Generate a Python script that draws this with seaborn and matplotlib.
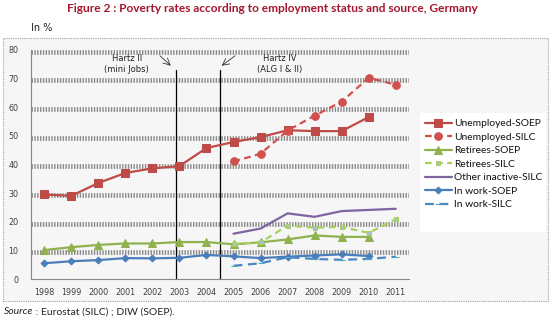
import numpy as np
import pandas as pd
import matplotlib
matplotlib.use("Agg")
import matplotlib.pyplot as plt
from matplotlib.patches import Rectangle
import seaborn as sns

years_all = list(range(1998, 2012))
years_soep = list(range(1998, 2011))
years_silc = list(range(2005, 2012))

unemployed_soep = [29.6, 29.1, 33.6, 37.1, 38.7, 39.5, 45.8, 47.9, 49.6, 52.0, 51.7, 51.7, 56.6]
unemployed_silc = [41.1, 43.8, 51.9, 57.1, 62.0, 70.3, 67.9]
retirees_soep = [10.2, 11.2, 12.0, 12.5, 12.5, 13.0, 13.0, 12.2, 12.9, 13.9, 15.3, 14.8, 14.8]
retirees_silc = [12.3, 12.9, 18.7, 18.0, 18.3, 16.2, 21.0]
other_inactive_silc = [15.9, 17.7, 23.0, 21.8, 23.8, 24.2, 24.6]
inwork_soep = [5.6, 6.3, 6.7, 7.4, 7.3, 7.5, 8.5, 8.0, 7.4, 7.9, 8.3, 8.7, 8.1]
inwork_silc = [4.7, 5.6, 7.7, 7.1, 6.8, 7.1, 7.9]

series_names = ["Unemployed-SOEP", "Unemployed-SILC", "Retirees-SOEP", "Retirees-SILC",
                "Other inactive-SILC", "In work-SOEP", "In work-SILC"]
yticks = [0, 10, 20, 30, 40, 50, 60, 70, 80]

title = "Figure 2 : Poverty rates according to employment status and source, Germany"

frames = []
for name, yrs, vals in [
    ("Unemployed-SOEP", years_soep, unemployed_soep),
    ("Unemployed-SILC", years_silc, unemployed_silc),
    ("Retirees-SOEP", years_soep, retirees_soep),
    ("Retirees-SILC", years_silc, retirees_silc),
    ("Other inactive-SILC", years_silc, other_inactive_silc),
    ("In work-SOEP", years_soep, inwork_soep),
    ("In work-SILC", years_silc, inwork_silc),
]:
    frames.append(pd.DataFrame({"year": yrs, "value": vals, "series": name}))
df = pd.concat(frames, ignore_index=True)

styles = {
    "Unemployed-SOEP": dict(color="#be4b48", marker="s", markersize=5.5, linestyle="-", mfc="#be4b48", mec="#be4b48"),
    "Unemployed-SILC": dict(color="#d0504d", marker="o", markersize=5.5, linestyle=(0, (3, 2)), mfc="#d0504d", mec="#d0504d"),
    "Retirees-SOEP": dict(color="#8fb24f", marker="^", markersize=5.5, linestyle="-", mfc="#8fb24f", mec="#8fb24f"),
    "Retirees-SILC": dict(color="#a8cf5f", marker="s", markersize=3.5, linestyle=(0, (3, 2)), mfc="#a9bfd6", mec="#a8cf5f"),
    "Other inactive-SILC": dict(color="#8064a2", marker=None, linestyle="-"),
    "In work-SOEP": dict(color="#4a7ebb", marker="D", markersize=3.5, linestyle="-", mfc="#4a7ebb", mec="#4a7ebb"),
    "In work-SILC": dict(color="#4a86c4", marker="_", markersize=4, linestyle=(0, (4, 2.5)), mfc="#4bacc6", mec="#4bacc6"),
}

sns.set_theme(style="white")
plt.rcParams['font.family'] = ['DejaVu Sans']

W, H = 550, 321
fig = plt.figure(figsize=(5.5, 3.21), dpi=100)
fig.patch.set_facecolor("white")

# outer chart frame
frame = Rectangle((3 / W, 1 - 301 / H), (548 - 3) / W, (301 - 38) / H, transform=fig.transFigure,
                  facecolor="#f6f6f6", edgecolor="#a0a0a0", linestyle=(0, (1, 1)), linewidth=0.8, zorder=-3)
fig.patches.append(frame)
# legend white box
lbox = Rectangle((420 / W, 1 - 232 / H), (546 - 420) / W, (232 - 113) / H, transform=fig.transFigure,
                 facecolor="white", edgecolor="none", zorder=-2)
fig.patches.append(lbox)

ax = fig.add_axes([30.7 / W, 1 - 279.3 / H, (409.3 - 30.7) / W, (279.3 - 50) / H])
ax.set_facecolor("none")
ax.set_zorder(1)

for name in series_names:
    st = styles[name]
    sub = df[df["series"] == name]
    kw = dict(color=st["color"], linestyle=st["linestyle"], linewidth=1.6, label=name)
    if st["marker"]:
        kw.update(marker=st["marker"], markersize=st["markersize"],
                  markerfacecolor=st["mfc"], markeredgecolor=st["mec"])
    sns.lineplot(data=sub, x="year", y="value", ax=ax, zorder=5, **kw)

# gridlines
for yv in yticks[1:]:
    ax.axhline(yv - 0.6, color="#8a8a8a", linewidth=3.4, dashes=(0.3, 0.3), zorder=1)

ax.set_xlim(1997.5, 2011.5)
ax.set_ylim(0, 80)
ax.set_yticks(yticks)
ax.set_yticklabels([str(v) for v in yticks], fontsize=5.8, color="#404040")
ax.set_xticks(years_all)
ax.set_xticklabels([str(y) for y in years_all], fontsize=5.8, color="#404040")
ax.set_xticks(np.arange(1997.5, 2012, 1.0), minor=True)
ax.tick_params(axis="x", which="major", length=0, pad=6)
ax.tick_params(axis="x", which="minor", length=4, color="#888888", width=0.8, direction="out")
ax.tick_params(axis="y", which="major", length=3, color="#888888", width=0.8, direction="out", pad=6)
ax.set_xlabel("")
ax.set_ylabel("")
if ax.get_legend() is not None:
    ax.get_legend().remove()
for s in ["top", "right"]:
    ax.spines[s].set_visible(False)
for s in ["left", "bottom"]:
    ax.spines[s].set_color("#888888")
    ax.spines[s].set_linewidth(0.8)

# Hartz reform lines
ax.plot([2002.86, 2002.86], [0, 73], color="black", linewidth=0.9, zorder=4)
ax.plot([2004.51, 2004.51], [0, 73], color="black", linewidth=0.9, zorder=4)
ax.annotate("", xy=(2002.68, 74.5), xytext=(2002.28, 78.0),
            arrowprops=dict(arrowstyle="->", color="#333333", lw=0.6, shrinkA=0, shrinkB=0))
ax.annotate("", xy=(2004.56, 74.5), xytext=(2005.06, 78.0),
            arrowprops=dict(arrowstyle="->", color="#333333", lw=0.6, shrinkA=0, shrinkB=0))
ax.text(2001.05, 75.2, "Hartz II\n(mini Jobs)", ha="center", va="center", fontsize=6,
        color="#222222", linespacing=1.35)
ax.text(2006.72, 75.2, "Hartz IV\n(ALG I & II)", ha="center", va="center", fontsize=6,
        color="#222222", linespacing=1.35)

# legend
handles, labels = ax.get_legend_handles_labels()
leg = fig.legend(handles, labels, loc="upper left", bbox_to_anchor=(423 / W, 1 - 117 / H),
                 frameon=False, handlelength=2.6, handletextpad=0.25,
                 labelspacing=0.42, borderaxespad=0, borderpad=0.2,
                 prop=dict(family=["Lato", "DejaVu Sans"], size=7.4))
for t in leg.get_texts():
    t.set_color("#111111")

fig.text(272 / W, 1 - 9 / H, title, ha="center", va="center", fontsize=8.6,
         color="#a3172e", family=["Lato", "DejaVu Sans"], fontweight="bold")
fig.text(31 / W, 1 - 28 / H, "In %", ha="left", va="center", fontsize=7, color="#222222")
t1 = fig.text(4 / W, 1 - 312 / H, "Source", ha="left", va="center", fontsize=7.5,
              color="#222222", style="italic", family=["Lato", "DejaVu Sans"])
fig.canvas.draw()
bb = t1.get_window_extent()
fig.text(bb.x1 / (W), 1 - 312 / H, " : Eurostat (SILC) ; DIW (SOEP).", ha="left", va="center",
         fontsize=7.5, color="#222222", family=["Lato", "DejaVu Sans"])

fig.savefig("out.png", dpi=100, facecolor="white")
